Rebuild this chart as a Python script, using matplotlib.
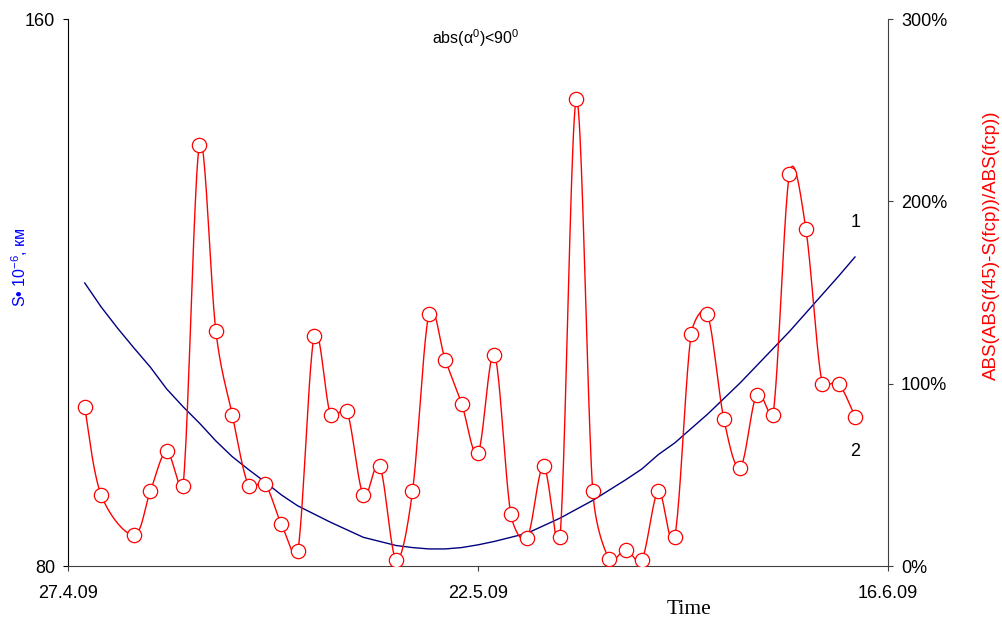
import numpy as np
import matplotlib.pyplot as plt
from matplotlib.ticker import FuncFormatter

plt.rcParams['font.family'] = ['Liberation Sans', 'DejaVu Sans']
plt.rcParams['mathtext.fontset'] = 'custom'
plt.rcParams['mathtext.rm'] = 'Liberation Sans'
plt.rcParams['mathtext.it'] = 'Liberation Sans:italic'
plt.rcParams['mathtext.default'] = 'rm'

# day numbers counted from 27.4.09
ratio_days = [1, 2, 4, 5, 6, 7, 8, 9, 10, 11, 12, 13, 14, 15, 16, 17, 18, 19, 20,
              21, 22, 23, 24, 25, 26, 27, 28, 29, 30, 31, 32, 33, 34, 35, 36, 37,
              38, 39, 40, 41, 42, 43, 44, 45, 46, 47, 48]
# relative deviation, percent (right axis)
ratio_pct = [87, 39, 17, 41, 63, 44, 231, 129, 83, 44, 45, 23, 8, 126, 83, 85,
             39, 55, 3.5, 41, 138, 113, 89, 62, 116, 28.5, 15.5, 55, 16, 256,
             41, 4, 9, 3.5, 41, 16, 127, 138, 80.5, 54, 94, 83, 215, 185, 100,
             100, 82]

# trend of S (left axis)
trend_days = list(range(1, 49))
trend_s = [121.4, 117.9, 114.8, 111.9, 109.1, 105.9, 103.3, 100.9, 98.3, 96.0,
           94.1, 92.3, 90.4, 88.8, 87.6, 86.4, 85.3, 84.2, 83.6, 83.0, 82.7, 82.5,
           82.5, 82.7, 83.1, 83.6, 84.2, 84.8, 85.9, 87.0, 88.3, 89.6, 91.1, 92.6,
           94.2, 96.3, 98.0, 100.1, 102.2, 104.5, 106.8, 109.3, 111.8, 114.3, 117.0,
           119.7, 122.4, 125.2]

date_ticks = [0, 25, 50]
date_labels = ['27.4.09', '22.5.09', '16.6.09']


def smooth_curve(xs, ys, sx=1.0, sy=1.0, n=24):
    # bezier through every point; tangent length capped at half the segment,
    # distances measured in screen units (sx, sy = pixels per data unit)
    p = np.column_stack([np.asarray(xs, float) * sx, np.asarray(ys, float) * sy])
    p = np.vstack([p[:1], p, p[-1:]])
    t = np.linspace(0, 1, n)[:, None]
    out = []
    for i in range(1, len(p) - 2):
        p0, p1, p2, p3 = p[i - 1], p[i], p[i + 1], p[i + 2]
        d12 = np.hypot(*(p2 - p1))
        d02 = np.hypot(*(p2 - p0))
        d13 = np.hypot(*(p3 - p1))
        c1 = p1 + (p2 - p0) * (min(d02 / 6, d12 / 2) / d02 if d02 else 0)
        c2 = p2 - (p3 - p1) * (min(d13 / 6, d12 / 2) / d13 if d13 else 0)
        seg = (1 - t)**3 * p1 + 3 * (1 - t)**2 * t * c1 + 3 * (1 - t) * t**2 * c2 + t**3 * p2
        out.append(seg)
    out = np.vstack(out)
    return out[:, 0] / sx, out[:, 1] / sy


fig = plt.figure(figsize=(10.02, 6.18), dpi=100)
ax = fig.add_axes([0.0682, 0.0841, 0.8178, 0.8851])

ax.plot(trend_days, trend_s, color='#000080', lw=1.0)
ax.set_xlim(0, 50)
ax.set_ylim(80, 160)
ax.set_yticks([80, 160])
ax.set_xticks(date_ticks)
ax.set_xticklabels(date_labels)

ax2 = ax.twinx()
px_day = 819.4 / 50
px_pct = 547.0 / 300
cx, cy = smooth_curve(ratio_days, ratio_pct, px_day, px_pct)
ax2.plot(cx, cy, color='red', lw=1.0)
ax2.plot(ratio_days, ratio_pct, 'o', ls='none', ms=10.3, mfc='white',
         mec='red', mew=0.9)
ax2.set_ylim(0, 300)
ax2.set_yticks([0, 100, 200, 300])
ax2.yaxis.set_major_formatter(FuncFormatter(lambda v, p: f'{v:.0f}%'))

for a in (ax, ax2):
    a.spines['top'].set_visible(False)
    a.tick_params(labelsize=13, length=3.6, width=0.8, pad=6)
ax.spines['right'].set_visible(False)
ax2.spines['left'].set_visible(False)
ax2.spines['bottom'].set_visible(False)
ax.spines['left'].set_color('black')
ax.spines['bottom'].set_color('#404040')
ax2.spines['right'].set_color('#404040')
ax.tick_params(axis='x', pad=10, colors='#404040', labelcolor='black')
ax2.tick_params(axis='y', colors='#404040', labelcolor='black')

ax.text(48.05, 130.2, '1', ha='center', va='center', fontsize=13)
ax.text(48.0, 96.7, '2', ha='center', va='center', fontsize=13)

fig.text(476 / 1002, 1 - 38 / 618, r'abs(α$^0$)<90$^0$', ha='center',
         va='center', fontsize=11.5)
fig.text(20 / 1002, 1 - 267 / 618, r'S• 10$^{-6}$, км', rotation=90,
         ha='center', va='center', fontsize=11.5, color='blue')
fig.text(991 / 1002, 1 - 245 / 618, 'ABS(ABS(f45)-S(fcp))/ABS(fcp))',
         rotation=90, ha='center', va='center', fontsize=13.5, color='red')
fig.text(689 / 1002, 1 - 614 / 618, 'Time', ha='center', va='baseline',
         fontsize=15.5, family=['Liberation Serif', 'DejaVu Serif'])

fig.savefig('out.png', dpi=100)
